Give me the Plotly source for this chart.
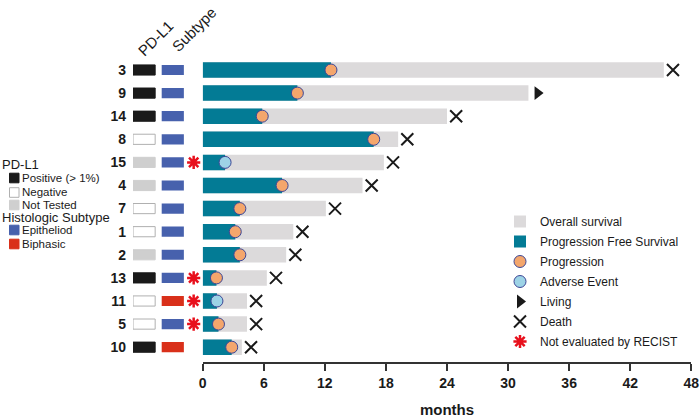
import plotly.graph_objects as go

# patients, top to bottom
patients = ["3", "9", "14", "8", "15", "4", "7", "1", "2", "13", "11", "5", "10"]
os_months = [45.3, 32.0, 24.0, 19.2, 17.8, 15.7, 12.1, 8.9, 8.2, 6.3, 4.35, 4.35, 3.85]
pfs_months = [12.6, 9.3, 5.85, 16.8, 2.2, 7.8, 3.65, 3.2, 3.65, 1.35, 1.4, 1.55, 2.85]
pfs_event = ["Progression", "Progression", "Progression", "Progression", "Adverse",
             "Progression", "Progression", "Progression", "Progression", "Progression",
             "Adverse", "Progression", "Progression"]
status = ["Death", "Living", "Death", "Death", "Death", "Death", "Death", "Death",
          "Death", "Death", "Death", "Death", "Death"]
pdl1 = ["Positive", "Positive", "Positive", "Negative", "Not Tested", "Not Tested",
        "Negative", "Negative", "Not Tested", "Positive", "Negative", "Negative", "Positive"]
subtype = ["Epitheliod"] * 10 + ["Biphasic", "Epitheliod", "Biphasic"]
not_recist = ["15", "13", "11", "5"]
month_ticks = [0, 6, 12, 18, 24, 30, 36, 42, 48]

FONT = "Liberation Sans, Arial, sans-serif"
W, H = 700, 420
GRAY = "#dcdadb"
TEAL = "#037b95"
ORANGE = "#f4a66c"
LIGHTBLUE = "#9dd3e6"
OUTLINE = "#3d4796"
RED = "#e8101c"
PDL1_FILL = {"Positive": "#1a1a1a", "Negative": "#ffffff", "Not Tested": "#cfcfcf"}
PDL1_LINE = {"Positive": "#1a1a1a", "Negative": "#b0b0b0", "Not Tested": "#cfcfcf"}
SUB_FILL = {"Epitheliod": "#4761ad", "Biphasic": "#d9301a"}
PAD = 0.9  # gap between bar end and living/death marker, months

px = lambda v: v / W
py = lambda v: 1 - v / H

fig = go.Figure()

fig.add_trace(go.Bar(x=os_months, y=patients, orientation="h", width=0.67,
                     marker=dict(color=GRAY, line_width=0), name="Overall survival",
                     legendgroup="os"))
fig.add_trace(go.Bar(x=pfs_months, y=patients, orientation="h", width=0.67,
                     marker=dict(color=TEAL, line_width=0), name="Progression Free Survival",
                     legendgroup="pfs"))

for ev, col, nm in [("Progression", ORANGE, "Progression"), ("Adverse", LIGHTBLUE, "Adverse Event")]:
    idx = [i for i, e in enumerate(pfs_event) if e == ev]
    fig.add_trace(go.Scatter(
        x=[pfs_months[i] for i in idx], y=[patients[i] for i in idx], mode="markers", name=nm,
        legendgroup=ev,
        marker=dict(symbol="circle", size=12, color=col, line=dict(color=OUTLINE, width=1))))

for st, sym, nm in [("Living", "triangle-right", "Living"), ("Death", "x-thin-open", "Death")]:
    idx = [i for i, s in enumerate(status) if s == st]
    mk = dict(symbol=sym, size=12, color="#1a1a1a")
    if st == "Death":
        mk["line"] = dict(color="#1a1a1a", width=2)
    else:
        mk["line"] = dict(width=0)
    fig.add_trace(go.Scatter(
        x=[os_months[i] + PAD for i in idx], y=[patients[i] for i in idx],
        mode="markers", name=nm, legendgroup=st, marker=mk))

# left annotation columns (x2 axis)
fig.add_trace(go.Bar(
    x=[0.95] * len(patients), base=[0] * len(patients), y=patients, orientation="h",
    width=0.44, xaxis="x2", showlegend=False,
    marker=dict(color=[PDL1_FILL[p] for p in pdl1],
                line=dict(color=[PDL1_LINE[p] for p in pdl1], width=1))))
fig.add_trace(go.Bar(
    x=[0.95] * len(patients), base=[1.23] * len(patients), y=patients, orientation="h",
    width=0.44, xaxis="x2", showlegend=False,
    marker=dict(color=[SUB_FILL[s] for s in subtype], line_width=0)))
fig.add_trace(go.Scatter(
    x=[2.6] * len(not_recist), y=not_recist, xaxis="x2", mode="markers",
    name="Not evaluated by RECIST", legendgroup="recist",
    marker=dict(symbol="asterisk-open", size=11, color=RED, line=dict(color=RED, width=2.5))))

fig.update_layout(
    width=W, height=H, margin=dict(l=0, r=0, t=0, b=0, autoexpand=False),
    paper_bgcolor="white", plot_bgcolor="rgba(0,0,0,0)",
    barmode="overlay", font=dict(family=FONT, color="#1a1a1a"),
    xaxis=dict(domain=[px(202.7), px(691.3)], range=[0, 48], tickvals=month_ticks,
               automargin=False,
               showgrid=False, zeroline=False, showline=True, linecolor="#333", linewidth=2,
               ticks="outside", ticklen=7, tickwidth=2, tickcolor="#333",
               tickfont=dict(size=14, family=FONT, weight="bold"),
               title=dict(text="<b>months</b>", font=dict(size=15), standoff=14)),
    xaxis2=dict(domain=[px(133), px(203)], range=[0, 3], visible=False, anchor="y",
                automargin=False),
    yaxis=dict(type="category", categoryorder="array", categoryarray=patients,
               domain=[py(362.2), py(58.45)], range=[12.65, -0.5], automargin=False,
               anchor="x2", showgrid=False, zeroline=False, showline=False, ticks="",
               ticklabelstandoff=6,
               tickfont=dict(size=14, family=FONT, weight="bold")),
    legend=dict(x=px(500), y=py(207), xanchor="left", yanchor="top",
                bgcolor="rgba(0,0,0,0)", font=dict(size=12, family=FONT),
                traceorder="grouped", tracegroupgap=1),
)

# rotated column headers
fig.add_annotation(x=px(155), y=py(38), xref="paper", yref="paper", text="PD-L1",
                   xanchor="center", yanchor="middle",
                   textangle=-45, showarrow=False, font=dict(size=15))
fig.add_annotation(x=px(194), y=py(30), xref="paper", yref="paper", text="Subtype",
                   xanchor="center", yanchor="middle",
                   textangle=-45, showarrow=False, font=dict(size=15))

# left key
key = [("PD-L1", None, None, 165, True),
       ("Positive (> 1%)", PDL1_FILL["Positive"], PDL1_LINE["Positive"], 178, False),
       ("Negative", PDL1_FILL["Negative"], PDL1_LINE["Negative"], 192.5, False),
       ("Not Tested", PDL1_FILL["Not Tested"], PDL1_LINE["Not Tested"], 205, False),
       ("Histologic Subtype", None, None, 217.7, True),
       ("Epitheliod", SUB_FILL["Epitheliod"], SUB_FILL["Epitheliod"], 230, False),
       ("Biphasic", SUB_FILL["Biphasic"], SUB_FILL["Biphasic"], 244, False)]
for text, fill, line, yc, title in key:
    if title:
        fig.add_annotation(x=0, y=py(yc), xref="paper", yref="paper", text=text,
                           xanchor="left", yanchor="middle", showarrow=False,
                           font=dict(size=13))
    else:
        fig.add_shape(type="rect", xref="paper", yref="paper",
                      x0=px(9.5), x1=px(19), y0=py(yc - 4.8), y1=py(yc + 4.8),
                      fillcolor=fill, line=dict(color=line, width=1))
        fig.add_annotation(x=px(20), y=py(yc), xref="paper", yref="paper", text=text,
                           xanchor="left", yanchor="middle", showarrow=False,
                           font=dict(size=11.5))

# page has a default body margin; drop it so the figure sits at the window origin
fig.write_html("out.html", config={"displayModeBar": False},
               post_script="document.body.style.margin='0';")
